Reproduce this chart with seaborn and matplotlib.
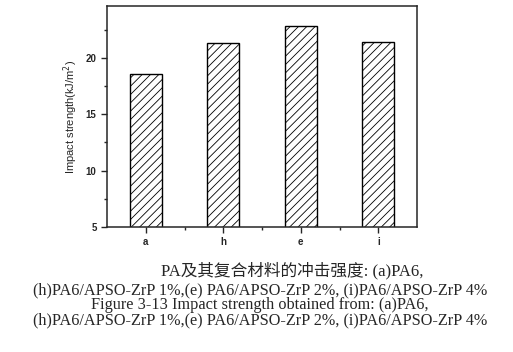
import pandas as pd
import matplotlib
matplotlib.use("Agg")
import matplotlib.pyplot as plt
import seaborn as sns
from matplotlib.ticker import MultipleLocator

# data
samples = ["a", "h", "e", "i"]
impact = [18.6, 21.3, 22.8, 21.45]

caption_cn = "PA及其复合材料的冲击强度: (a)PA6,"
caption_rest = [
    "(h)PA6/APSO-ZrP 1%,(e) PA6/APSO-ZrP 2%, (i)PA6/APSO-ZrP 4%",
    "Figure 3-13 Impact strength obtained from: (a)PA6,",
    "(h)PA6/APSO-ZrP 1%,(e) PA6/APSO-ZrP 2%, (i)PA6/APSO-ZrP 4%",
]

df = pd.DataFrame({"sample": samples, "impact": impact})

sns.set_style("ticks")
plt.rcParams["hatch.linewidth"] = 0.6

fig = plt.figure(figsize=(5.13, 3.52), dpi=100)
ax = fig.add_axes([0.2086, 0.355, 0.6043, 0.628])

sns.barplot(data=df, x="sample", y="impact", color="white", edgecolor="black",
            linewidth=1.0, width=0.41, ax=ax)
for p in ax.patches:
    p.set_hatch("////")
    p.set_facecolor("white")

ax.set_xlim(-0.5, 3.5)
ax.set_ylim(5, 24.6)
ax.yaxis.set_major_locator(MultipleLocator(5))
ax.yaxis.set_minor_locator(MultipleLocator(2.5))
ax.set_xticks([0.5, 1.5, 2.5], minor=True)
ax.tick_params(axis="both", which="major", direction="out", length=4, width=1,
               labelsize=7)
ax.tick_params(axis="both", which="minor", direction="out", length=2.5, width=1)
for lab in ax.get_xticklabels() + ax.get_yticklabels():
    lab.set_fontfamily("Liberation Sans")
    lab.set_fontweight("bold")
for s in ax.spines.values():
    s.set_visible(True)
    s.set_linewidth(1.1)

ax.set_xlabel("")
ax.set_ylabel("Impact strength(kJ/m$^2$)", fontsize=8, fontfamily="Liberation Sans",
              labelpad=4)

# caption below the chart
fig.text(292 / 513, 1 - 271 / 352, caption_cn, ha="center", va="center",
         fontsize=12, family=["Liberation Serif", "Noto Sans CJK SC"])
fig.text(260 / 513, 1 - 282 / 352, "\n".join(caption_rest), ha="center", va="top",
         fontsize=11.7, family="Liberation Serif", linespacing=0.95)

fig.savefig("out.png", dpi=100)
